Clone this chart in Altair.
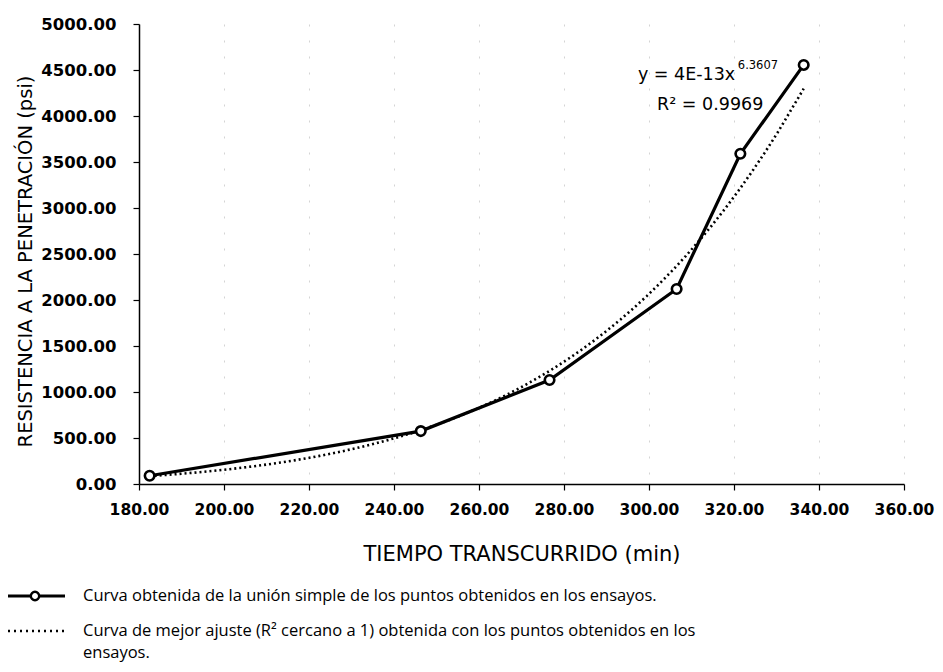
import altair as alt
import pandas as pd

tiempo = [182.5, 246.3, 276.6, 306.5, 321.5, 336.4]
resistencia = [90, 575, 1130, 2120, 3590, 4555]

x_ticks = [180, 200, 220, 240, 260, 280, 300, 320, 340, 360]
y_ticks = [0, 500, 1000, 1500, 2000, 2500, 3000, 3500, 4000, 4500, 5000]

eq_main = "y = 4E-13x"
eq_exp = "6.3607"
eq_r2 = "R² = 0.9969"
legend1 = "Curva obtenida de la unión simple de los puntos obtenidos en los ensayos."
legend2a = "Curva de mejor ajuste (R² cercano a 1) obtenida con los puntos obtenidos en los"
legend2b = "ensayos."

df = pd.DataFrame({"t": tiempo, "r": resistencia})

W, H = 765, 460
LAB_FONT = "DejaVu Sans"
TXT_FONT = "Open Sans"

xscale = alt.Scale(domain=[180, 360], nice=False, zero=False)
yscale = alt.Scale(domain=[0, 5000], nice=False)

xenc = alt.X("t:Q", scale=xscale,
             axis=alt.Axis(values=x_ticks, format=".2f", labelOverlap=False, labelFlush=False,
                           title="TIEMPO TRANSCURRIDO  (min)",
                           titleFont=LAB_FONT, titleFontSize=21, titleFontWeight="normal",
                           titleColor="black", titleY=76, titleBaseline="alphabetic",
                           labelFont=LAB_FONT, labelFontSize=15.5, labelFontWeight="bold",
                           labelColor="black", labelPadding=12,
                           domainColor="black", domainWidth=1.5,
                           tickColor="black", tickSize=6, tickWidth=1.2,
                           grid=True, gridColor="#aaaaaa", gridDash=[2, 14],
                           gridWidth=1, gridOpacity=0.5))
yenc = alt.Y("r:Q", scale=yscale,
             axis=alt.Axis(values=y_ticks, format=".2f",
                           title="RESISTENCIA A LA PENETRACIÓN  (psi)",
                           titleFont=LAB_FONT, titleFontSize=19.5, titleFontWeight="normal",
                           titleColor="black", titleAngle=-90,
                           titleX=-108, titleY=237, titleAlign="center",
                           titleBaseline="alphabetic",
                           labelFont=LAB_FONT, labelFontSize=16.5, labelFontWeight="bold",
                           labelColor="black", labelPadding=17,
                           domainColor="black", domainWidth=1.5,
                           tickColor="black", tickSize=6, tickWidth=1.2,
                           grid=False))

base = alt.Chart(df)

trend = base.transform_regression(
    "t", "r", method="pow", extent=[182.5, 336.4]
).mark_line(color="black", strokeWidth=2.6, strokeDash=[2, 3]).encode(x=xenc, y=yenc)

line = base.mark_line(color="black", strokeWidth=3.2).encode(x=xenc, y=yenc)
pts = base.mark_point(shape="circle", size=90, filled=True, fill="white",
                      stroke="black", strokeWidth=2.6, opacity=1).encode(x=xenc, y=yenc)

ann = pd.DataFrame({
    "t": [297.4, 320.9, 314.4],
    "r": [4391, 4510, 4065],
    "txt": [eq_main, eq_exp, eq_r2],
})
ann_main = alt.Chart(ann.iloc[[0]]).mark_text(font=LAB_FONT, fontSize=17.5, align="left",
                                              baseline="alphabetic", color="black").encode(
    x=alt.X("t:Q", scale=xscale), y=alt.Y("r:Q", scale=yscale), text="txt:N")
ann_exp = alt.Chart(ann.iloc[[1]]).mark_text(font=LAB_FONT, fontSize=11.5, align="left",
                                             baseline="alphabetic", color="black").encode(
    x=alt.X("t:Q", scale=xscale), y=alt.Y("r:Q", scale=yscale), text="txt:N")
ann_r2 = alt.Chart(ann.iloc[[2]]).mark_text(font=LAB_FONT, fontSize=17.5, align="center",
                                            baseline="alphabetic", color="black").encode(
    x=alt.X("t:Q", scale=xscale), y=alt.Y("r:Q", scale=yscale), text="txt:N")

# custom legend below the chart (pixel positions relative to plot origin)
leg_df = pd.DataFrame({"k": [0]})
leg_line1 = alt.Chart(leg_df).mark_rule(color="black", strokeWidth=3.2).encode(
    x=alt.value(-131), x2=alt.value(-74), y=alt.value(572))
leg_pt1 = alt.Chart(leg_df).mark_point(shape="circle", size=70, filled=True, fill="white",
                                       stroke="black", strokeWidth=2.4, opacity=1).encode(
    x=alt.value(-104), y=alt.value(572))
leg_line2 = alt.Chart(leg_df).mark_rule(color="black", strokeWidth=2.6, strokeDash=[2, 4]).encode(
    x=alt.value(-131), x2=alt.value(-74), y=alt.value(607))
leg_txt = pd.DataFrame({"txt": [legend1, legend2a, legend2b], "yy": [572, 607, 629]})
leg_text = alt.Chart(leg_txt).mark_text(font=TXT_FONT, fontSize=16.5, align="left",
                                        baseline="middle", color="black").encode(
    x=alt.value(-56), y=alt.Y("yy:Q", scale=None, axis=None),
    text="txt:N")

chart = alt.layer(trend, line, pts, ann_main, ann_exp, ann_r2,
                  leg_line1, leg_pt1, leg_line2, leg_text).properties(
    width=W, height=H,
    autosize=alt.AutoSizeParams(type="none"),
    padding={"left": 131, "top": 16, "right": 31, "bottom": 180},
    background="white",
).configure_view(stroke=None)

chart.save("out.html", embed_options={"renderer": "svg", "actions": False})
